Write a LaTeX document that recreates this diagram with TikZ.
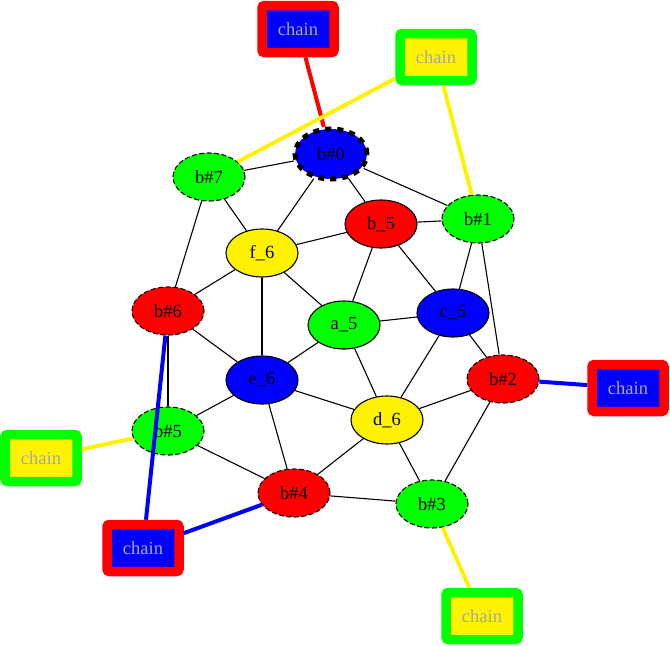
\documentclass[tikz,border=0pt]{standalone}
\usepackage{fontspec}
\setmainfont{Liberation Serif}
\usetikzlibrary{shapes.geometric}
\definecolor{chaingray}{HTML}{A8A8A8}
\tikzset{
  gnode/.style={ellipse, draw=black, line width=1.1pt, inner sep=0pt, minimum width=72pt, minimum height=48pt, font=\fontsize{18.5}{20}\selectfont, text=black},
  bnode/.style={gnode, dash pattern=on 5pt off 2.5pt},
  chainbox/.style={rectangle, rounded corners=2.5pt, line width=9.5pt, minimum width=72pt, minimum height=47pt, inner sep=0pt, text=chaingray, font=\fontsize{18.5}{20}\selectfont},
  redbox/.style={chainbox, draw=red, fill=blue},
  greenbox/.style={chainbox, draw=green, fill=yellow},
  tedge/.style={draw=black, line width=1.1pt},
  cedge/.style={line width=4pt}
}
\begin{document}
\begin{tikzpicture}[x=1pt,y=-1pt]
\useasboundingbox (0,0) rectangle (670,646);
% graph nodes
\node[gnode, fill=blue, line width=5pt, dash pattern=on 6pt off 6pt, minimum width=72pt, minimum height=50pt] (b0) at (331,154) {b\#0};
\node[bnode, fill=green] (b7) at (209,177) {b\#7};
\node[bnode, fill=green] (b1) at (478,219) {b\#1};
\node[gnode, fill=red] (b5n) at (381,224) {b\_5};
\node[gnode, fill=yellow] (f6) at (262,253) {f\_6};
\node[bnode, fill=red] (b6) at (168,311) {b\#6};
\node[gnode, fill=green] (a5) at (344,325) {a\_5};
\node[gnode, fill=blue] (c5) at (453,313) {c\_5};
\node[gnode, fill=blue] (e6) at (262,380) {e\_6};
\node[gnode, fill=yellow] (d6) at (387,420) {d\_6};
\node[bnode, fill=red] (b2) at (503,379) {b\#2};
\node[bnode, fill=green] (b3) at (432,504) {b\#3};
\node[bnode, fill=red] (b4) at (294,493) {b\#4};
\node[bnode, fill=green] (b5) at (168,431) {b\#5};
% chain boxes
\node[redbox] (ch0) at (298,29) {chain};
\node[greenbox] (ch1) at (436,57) {chain};
\node[redbox] (ch2) at (628,388) {chain};
\node[greenbox] (ch3) at (41,458) {chain};
\node[redbox] (ch4) at (143,548) {chain};
\node[greenbox] (ch5) at (482,616) {chain};
% thin edges
\draw[tedge] (b0) -- (b7);
\draw[tedge] (b0) -- (f6);
\draw[tedge] (b0) -- (b5n);
\draw[tedge] (b0) -- (b1);
\draw[tedge] (b7) -- (f6);
\draw[tedge] (b7) -- (b6);
\draw[tedge] (b5n) -- (f6);
\draw[tedge] (b5n) -- (b1);
\draw[tedge] (b5n) -- (a5);
\draw[tedge] (b5n) -- (c5);
\draw[tedge] (b1) -- (c5);
\draw[tedge] (b1) -- (b2);
\draw[tedge] (f6) -- (b6);
\draw[tedge] (f6) -- (a5);
\draw[tedge] (f6) -- (e6);
\draw[tedge] (b6) -- (e6);
\draw[tedge] (b6) -- (b5);
\draw[tedge] (a5) -- (c5);
\draw[tedge] (a5) -- (e6);
\draw[tedge] (a5) -- (d6);
\draw[tedge] (c5) -- (d6);
\draw[tedge] (c5) -- (b2);
\draw[tedge] (e6) -- (b5);
\draw[tedge] (e6) -- (d6);
\draw[tedge] (e6) -- (b4);
\draw[tedge] (d6) -- (b2);
\draw[tedge] (d6) -- (b4);
\draw[tedge] (d6) -- (b3);
\draw[tedge] (b2) -- (b3);
\draw[tedge] (b5) -- (b4);
\draw[tedge] (b4) -- (b3);
% coloured edges
\draw[cedge, red] (ch0) -- (b0);
\draw[cedge, yellow] (ch1) -- (b7);
\draw[cedge, yellow] (ch1) -- (b1);
\draw[cedge, blue] (ch2) -- (b2);
\draw[cedge, yellow] (ch3) -- (b5);
\draw[cedge, blue] (ch4) -- (b6);
\draw[cedge, blue] (ch4) -- (b4);
\draw[cedge, yellow] (ch5) -- (b3);
\end{tikzpicture}
\end{document}
